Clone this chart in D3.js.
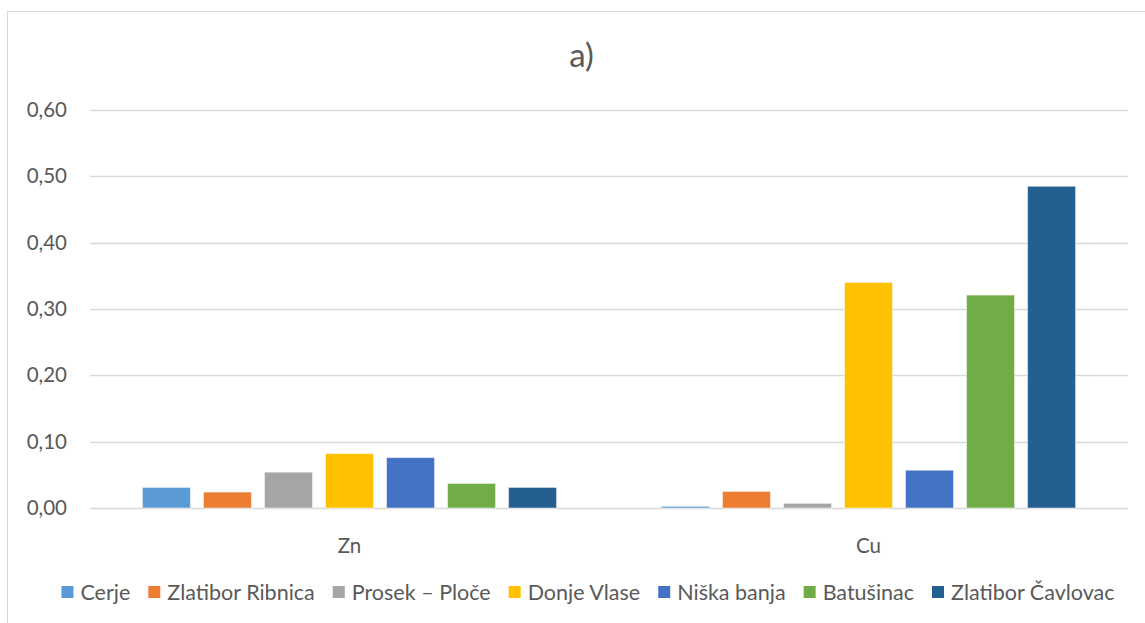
<!DOCTYPE html>
<html>
<head>
<meta charset="utf-8">
<script src="https://cdn.jsdelivr.net/npm/d3@7"></script>
<style>
  body { margin: 0; background: #fff; }
  text { font-family: Lato, "Open Sans", sans-serif; fill: #595959; }
</style>
</head>
<body>
<div id="chart"></div>
<script>
// data
const categories = ["Zn", "Cu"];
const series = ["Cerje", "Zlatibor Ribnica", "Prosek \u2013 Plo\u010De", "Donje Vlase", "Ni\u0161ka banja", "Batu\u0161inac", "Zlatibor \u010Cavlovac"];
const colors = ["#5B9BD5", "#ED7D31", "#A5A5A5", "#FFC000", "#4472C4", "#70AD47", "#255E91"];
const znValues = [0.031, 0.024, 0.054, 0.082, 0.076, 0.037, 0.031];
const cuValues = [0.0025, 0.025, 0.007, 0.34, 0.057, 0.321, 0.485];
const yTicks = [0, 0.1, 0.2, 0.3, 0.4, 0.5, 0.6];
const title = "a)";

const W = 1145, H = 623;
const margin = {top: 110, right: 17, bottom: 115, left: 90};
const w = W - margin.left - margin.right,
      h = H - margin.top - margin.bottom;
const fontSize = "20.5px";

const svg = d3.select("#chart").append("svg")
    .attr("width", W)
    .attr("height", H);

// chart area border (right/bottom edges fall outside the picture)
svg.append("rect")
    .attr("x", 7.5).attr("y", 11.5)
    .attr("width", 1160).attr("height", 640)
    .attr("fill", "none")
    .attr("stroke", "#D9D9D9");

svg.append("text")
    .attr("x", 581.5).attr("y", 67)
    .attr("text-anchor", "middle")
    .style("font-size", "33px")
    .text(title);

const g = svg.append("g")
    .attr("transform", "translate(" + margin.left + "," + margin.top + ")");

const y = d3.scaleLinear().domain([0, 0.6]).range([h, 0]);

const x0 = d3.scaleBand().domain(categories).range([0, w]).padding(0);
// bars sit inside each category with an outer gap of about 10% of the band
const outer = x0.bandwidth() * 0.101;
const x1 = d3.scaleBand().domain(series)
    .range([outer, x0.bandwidth() - outer])
    .paddingInner(0.213).paddingOuter(0);

// gridlines
g.append("g")
    .selectAll("line")
    .data(yTicks).enter()
    .append("line")
    .attr("x1", 0).attr("x2", w)
    .attr("y1", d => Math.round(y(d)) + 0.5)
    .attr("y2", d => Math.round(y(d)) + 0.5)
    .attr("stroke", "#D9D9D9")
    .attr("stroke-width", 1.3);

// y labels
const fmt = d => d3.format(".2f")(d).replace(".", ",");
const yAxis = g.append("g")
    .call(d3.axisLeft(y).tickValues(yTicks).tickFormat(fmt).tickSize(0).tickPadding(23));
yAxis.select(".domain").remove();
yAxis.selectAll("text")
    .style("font-size", fontSize)
    .style("font-family", "Lato, sans-serif")
    .attr("fill", "#595959");

// bars
const rows = categories.map((c, i) => ({cat: c, vals: i === 0 ? znValues : cuValues}));
const groups = g.selectAll(".cat")
    .data(rows).enter()
    .append("g")
    .attr("class", "cat")
    .attr("transform", d => "translate(" + x0(d.cat) + ",0)");

groups.selectAll("rect")
    .data(d => d.vals.map((v, j) => ({name: series[j], value: v, color: colors[j]})))
    .enter()
    .append("rect")
    .attr("x", d => x1(d.name))
    .attr("y", d => y(d.value))
    .attr("width", x1.bandwidth())
    .attr("height", d => y(0) - y(d.value))
    .attr("fill", d => d.color)
    .attr("stroke", "#fff")
    .attr("stroke-opacity", 0.5)
    .attr("stroke-width", 1);

// category labels
const xAxis = g.append("g")
    .attr("transform", "translate(0," + h + ")")
    .call(d3.axisBottom(x0).tickSize(0).tickPadding(30));
xAxis.select(".domain").remove();
xAxis.selectAll("text")
    .style("font-size", fontSize)
    .style("font-family", "Lato, sans-serif")
    .attr("fill", "#595959");

// legend
const legend = svg.append("g").attr("transform", "translate(0,592)");
let lx = 0;
const items = legend.selectAll(".item")
    .data(series).enter()
    .append("g")
    .attr("class", "item");
items.append("rect")
    .attr("y", -6).attr("width", 12).attr("height", 12)
    .attr("fill", (d, i) => colors[i]);
items.append("text")
    .attr("x", 19).attr("dy", "0.35em")
    .style("font-size", "21.5px")
    .text(d => d);
items.each(function () {
    const t = d3.select(this).select("text").node().getComputedTextLength();
    d3.select(this).attr("transform", "translate(" + lx + ",0)");
    lx += 19 + t + 18;
});
const legendW = lx - 18;
legend.attr("transform", "translate(" + (588 - legendW / 2) + ",592)");
</script>
</body>
</html>
